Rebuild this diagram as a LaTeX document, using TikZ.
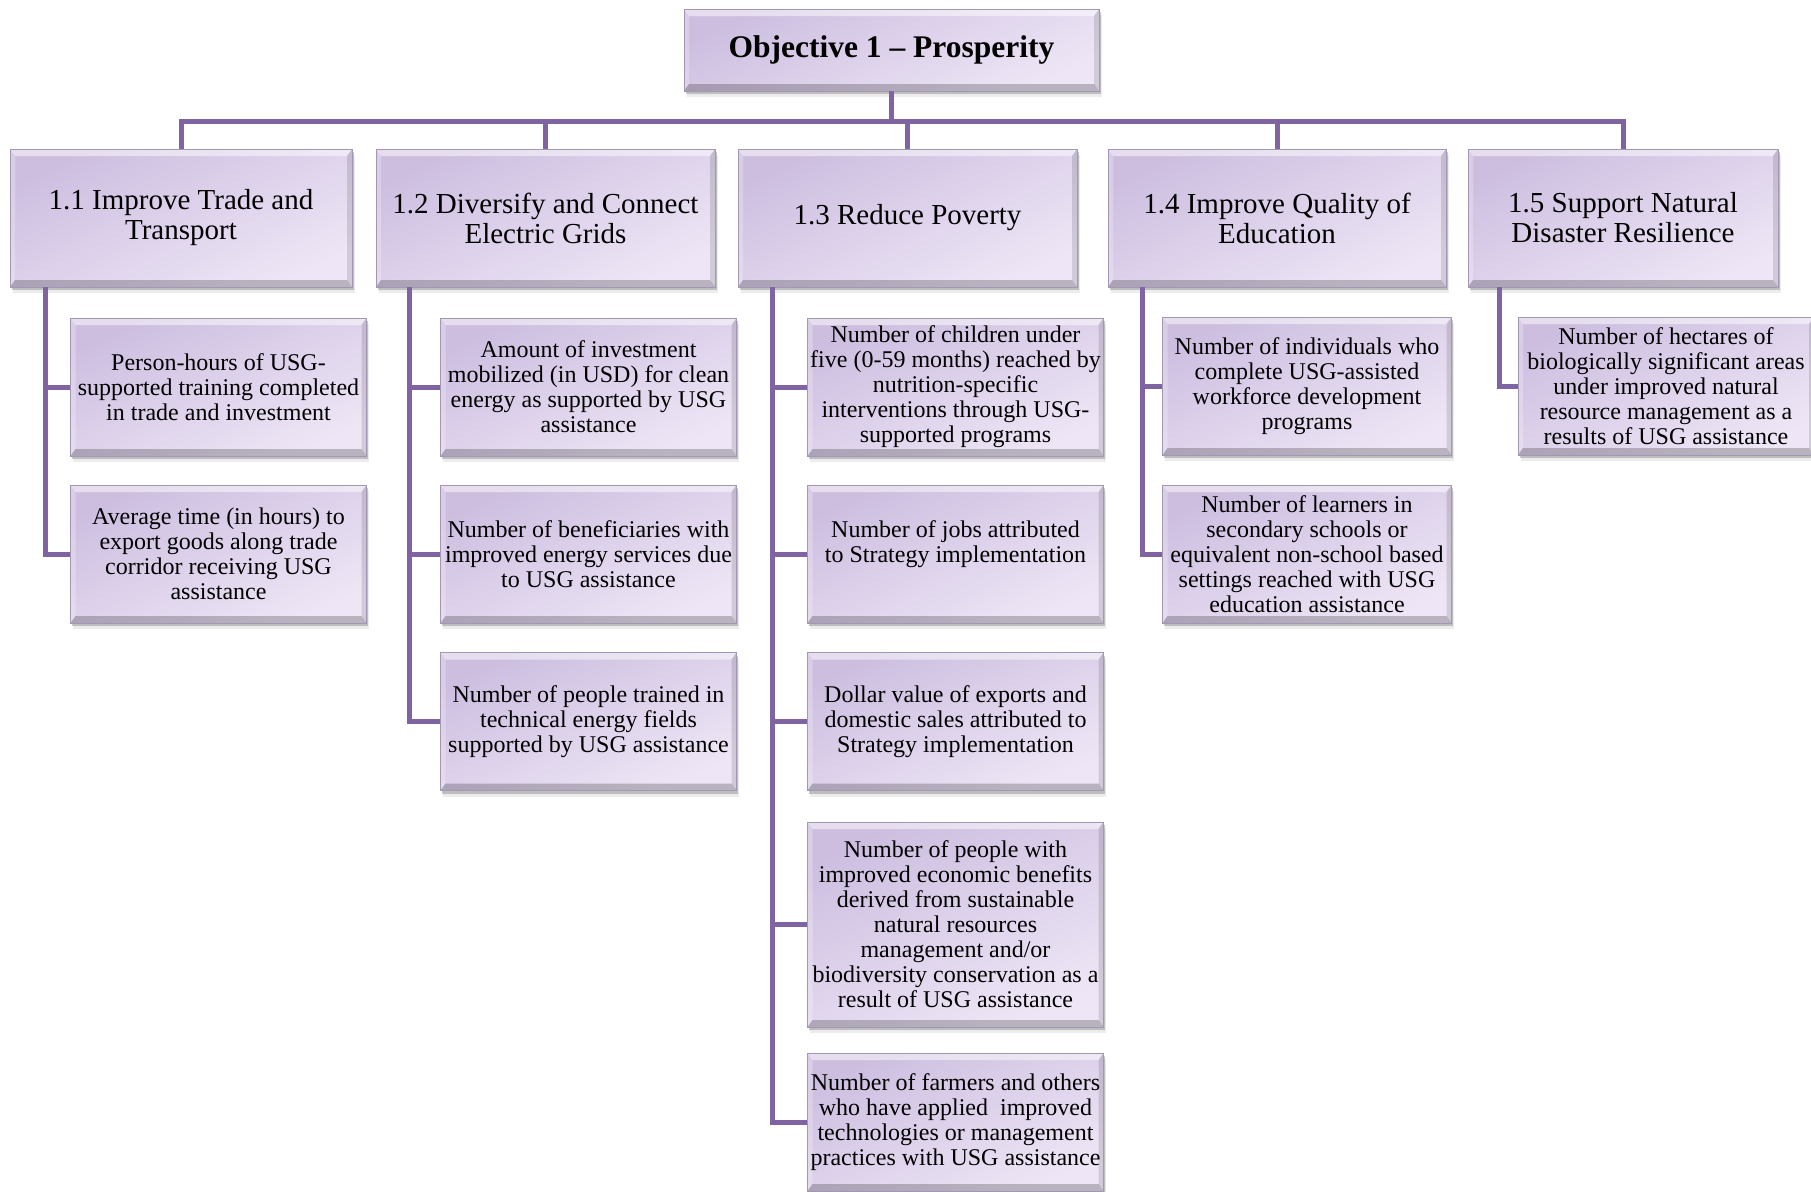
\documentclass[tikz,border=0pt]{standalone}
\usepackage{fontspec}
\setmainfont{Liberation Serif}
\usetikzlibrary{shadows,calc}

\definecolor{linkc}{HTML}{8064A2}
\definecolor{faceA}{HTML}{CDBEE0}
\definecolor{faceB}{HTML}{EEE6F6}
\definecolor{edgec}{HTML}{A397B3}

\newcommand\objfont{\fontsize{31.5}{34}\bfseries\selectfont}
\newcommand\goalfont{\fontsize{29}{30}\selectfont}
\newcommand\leaffont{\fontsize{24}{25}\selectfont}

\tikzset{
  % raised, bevelled panel used for every box
  bevel/.style={path picture={
    \path (path picture bounding box.north west) coordinate (bvA)
          (path picture bounding box.north east) coordinate (bvB)
          (path picture bounding box.south east) coordinate (bvC)
          (path picture bounding box.south west) coordinate (bvD);
    \fill[white,opacity=.50] (bvA) -- (bvB) -- ([shift={(-5,7)}]bvB) -- ([shift={(5,7)}]bvA) -- cycle;
    \fill[white,opacity=.25] (bvA) -- ([shift={(5,7)}]bvA) -- ([shift={(5,-7)}]bvD) -- (bvD) -- cycle;
    \fill[black,opacity=.12] (bvB) -- (bvC) -- ([shift={(-5,-7)}]bvC) -- ([shift={(-5,7)}]bvB) -- cycle;
    \fill[black,opacity=.22] (bvD) -- (bvC) -- ([shift={(-5,-7)}]bvC) -- ([shift={(5,-7)}]bvD) -- cycle;
  }},
  panel/.style={rectangle, inner sep=0pt, align=center, text=black,
    draw=edgec, line width=0.8pt,
    top color=faceA, bottom color=faceB, shading angle=25,
    drop shadow={shadow xshift=1.5pt, shadow yshift=-3pt, opacity=.35, fill=black!60},
    drop shadow={shadow xshift=2.5pt, shadow yshift=-6pt, opacity=.15, fill=black!50},
    bevel},
  objbox/.style={panel, font=\objfont, minimum width=415, minimum height=82},
  goalbox/.style={panel, font=\goalfont, minimum height=138},
  leafbox/.style={panel, font=\leaffont, minimum width=296, minimum height=138},
  conn/.style={draw=linkc, line width=5pt},
}

\begin{document}
\begin{tikzpicture}[x=1pt, y=-1pt]
  \fill[white] (0,0) rectangle (1811,1191);
  \useasboundingbox (0,0) rectangle (1811,1191);

  % objective
  \node[objbox] (obj) at (891.5,50) {Objective 1 -- Prosperity};

  % intermediate results
  \node[goalbox, minimum width=342] (g11) at (181,218)    {1.1 Improve Trade and\\Transport};
  \node[goalbox, minimum width=339] (g12) at (545.5,218)  {1.2 Diversify and Connect\\Electric Grids};
  \node[goalbox, minimum width=339] (g13) at (907.5,218)  {1.3 Reduce Poverty};
  \node[goalbox, minimum width=338] (g14) at (1277,218)   {1.4 Improve Quality of\\Education};
  \node[goalbox, minimum width=310] (g15) at (1623,218)   {1.5 Support Natural\\Disaster Resilience};

  % indicators under 1.1
  \node[leafbox] (c11a) at (218.5,387) {Person-hours of USG-\\supported training completed\\in trade and investment};
  \node[leafbox] (c11b) at (218.5,554) {Average time (in hours) to\\export goods along trade\\corridor receiving USG\\assistance};

  % indicators under 1.2
  \node[leafbox] (c12a) at (588.5,387)   {Amount of investment\\mobilized (in USD) for clean\\energy as supported by USG\\assistance};
  \node[leafbox] (c12b) at (588.5,554)   {Number of beneficiaries with\\improved energy services due\\to USG assistance};
  \node[leafbox] (c12c) at (588.5,721.5) {Number of people trained in\\technical energy fields\\supported by USG assistance};

  % indicators under 1.3
  \node[leafbox] (c13a) at (955.5,387)   {Number of children under\\five (0-59 months) reached by\\nutrition-specific\\interventions through USG-\\supported programs};
  \node[leafbox] (c13b) at (955.5,554)   {Number of jobs attributed\\to Strategy implementation\\\mbox{}};
  \node[leafbox] (c13c) at (955.5,721.5) {Dollar value of exports and\\domestic sales attributed to\\Strategy implementation};
  \node[leafbox, minimum height=205] (c13d) at (955.5,924.5) {Number of people with\\improved economic benefits\\derived from sustainable\\natural resources\\management and/or\\biodiversity conservation as a\\result of USG assistance};
  \node[leafbox] (c13e) at (955.5,1122)  {Number of farmers and others\\who have applied\ \ improved\\technologies or management\\practices with USG assistance};

  % indicators under 1.4
  \node[leafbox, minimum width=289] (c14a) at (1307,386) {Number of individuals who\\complete USG-assisted\\workforce development\\programs};
  \node[leafbox, minimum width=289] (c14b) at (1307,554) {Number of learners in\\secondary schools or\\equivalent non-school based\\settings reached with USG\\education assistance};

  % indicator under 1.5
  \node[leafbox] (c15a) at (1666,386) {Number of hectares of\\biologically significant areas\\under improved natural\\resource management as a\\results of USG assistance};

  % top-level bus
  \coordinate (bus) at (0,121);
  \draw[conn] (obj.south) -- (obj.south |- bus);
  \draw[conn] (g11.north) -- (g11.north |- bus) -- (g15.north |- bus) -- (g15.north);
  \draw[conn] (g12.north) -- (g12.north |- bus);
  \draw[conn] (g13.north) -- (g13.north |- bus);
  \draw[conn] (g14.north) -- (g14.north |- bus);

  % branch trunks below each intermediate result
  \coordinate (t11) at ([xshift=35.5pt]g11.south west);
  \coordinate (t12) at ([xshift=34pt]g12.south west);
  \coordinate (t13) at ([xshift=35pt]g13.south west);
  \coordinate (t14) at ([xshift=35pt]g14.south west);
  \coordinate (t15) at ([xshift=32pt]g15.south west);

  \draw[conn] (t11) |- (c11a.west);
  \draw[conn] (t11) |- (c11b.west);

  \draw[conn] (t12) |- (c12a.west);
  \draw[conn] (t12) |- (c12b.west);
  \draw[conn] (t12) |- (c12c.west);

  \draw[conn] (t13) |- (c13a.west);
  \draw[conn] (t13) |- (c13b.west);
  \draw[conn] (t13) |- (c13c.west);
  \draw[conn] (t13) |- (c13d.west);
  \draw[conn] (t13) |- (c13e.west);

  \draw[conn] (t14) |- (c14a.west);
  \draw[conn] (t14) |- (c14b.west);

  \draw[conn] (t15) |- (c15a.west);
\end{tikzpicture}
\end{document}
